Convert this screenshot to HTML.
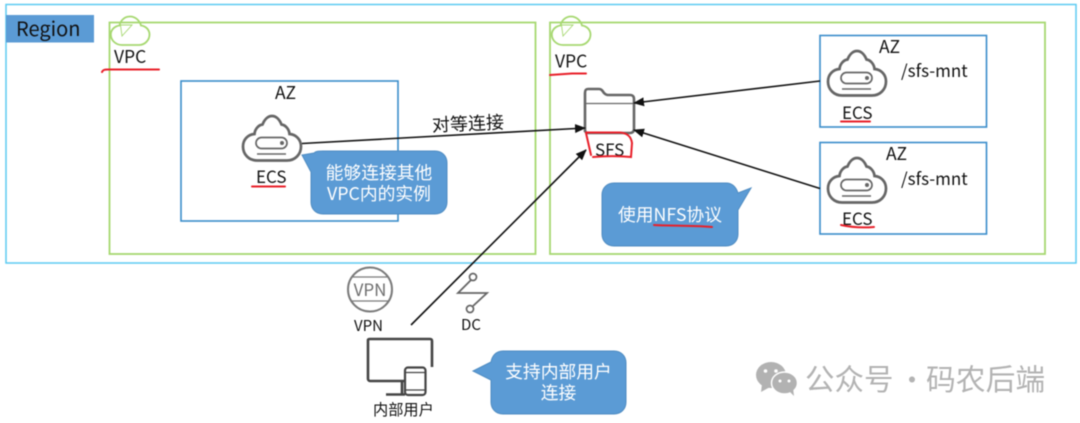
<!DOCTYPE html>
<html><head><meta charset="utf-8"><style>
html,body{margin:0;padding:0;background:#fff;width:1080px;height:423px;overflow:hidden}
svg{display:block;filter:blur(0.45px)}
text{font-family:"Noto Sans CJK SC","Liberation Sans",sans-serif;fill:#111}
.w{fill:#fff}
.r{fill:none;stroke:#e8202a;stroke-width:2;stroke-linecap:round}
.ln{stroke:#111;stroke-width:1.6;fill:none}
.cl{fill:none;stroke:#666;stroke-width:2.7}
.g{fill:none;stroke:#a6d870;stroke-width:1.8}
</style></head><body>
<svg width="1080" height="423" viewBox="0 0 1080 423" xmlns="http://www.w3.org/2000/svg">
<defs>
<marker id="a" markerWidth="11" markerHeight="9" refX="10" refY="4.500" orient="auto" markerUnits="userSpaceOnUse"><path d="M0 0L11 4.500L0 9Z" fill="#111"/></marker>
<g id="ecs">
<path class="cl" d="M15 46H45C53 46 59 40 59 32C59 25 54 20 47.500 19.500C47 14 43 10.500 39.500 10C37.500 5 34 1.500 30 1.500C26 1.500 22.500 5 20.500 10C17 10.500 13 14 12.500 19.500C6 20 1 25 1 32C1 40 7 46 15 46Z"/>
<rect x="14" y="23" width="31" height="11" rx="5.500" fill="none" stroke="#666" stroke-width="1.700"/>
<circle cx="40" cy="28.500" r="2" fill="#666"/>
<path d="M15 39.500H44" stroke="#666" stroke-width="1.500"/>
</g>
<g id="vpc">
<path class="g" d="M12 29.500H29C35 29.500 39.500 24.500 39.500 19C39.500 14 35.500 10.500 31 10C29.500 5 25.500 1 20 1C14.500 1 10.500 5 9.500 10C5 10.500 0.800 14 0.800 19C0.800 25 6 29.500 12 29.500Z"/>
<path d="M10.500 9.500L22 9.500L12 20.500Z" fill="none" stroke="#a6d870" stroke-width="0.900"/>
</g>
</defs>

<rect x="6" y="4.500" width="1070" height="258.500" fill="#fff" stroke="#5ccbf2" stroke-width="1.500"/>
<rect x="6" y="15" width="88" height="27.500" fill="#5b9bd5"/>
<text x="16" y="36" font-size="20">Region</text>

<rect x="109.500" y="22.500" width="426" height="231.500" class="g"/>
<rect x="550" y="22.500" width="495" height="231.500" class="g"/>
<use href="#vpc" x="110" y="15.500"/>
<use href="#vpc" x="551" y="15.500"/>
<text x="114" y="63" font-size="17.500">VPC</text>
<path class="r" d="M102 72C103 70 104 69.500 108 69.500L159 69.500"/>
<text x="555" y="67.500" font-size="17.500">VPC</text>
<path class="r" d="M550 75L572 73.500L586 73.500"/>

<rect x="181" y="81" width="217" height="140" fill="none" stroke="#3a8dcb" stroke-width="1.600"/>
<text x="275" y="99" font-size="17.500">AZ</text>
<use href="#ecs" x="242" y="114.500"/>
<text x="256" y="183" font-size="17">ECS</text>
<path class="r" d="M252 186.500H285"/>

<rect x="820" y="35.500" width="166.500" height="91.500" fill="none" stroke="#3a8dcb" stroke-width="1.600"/>
<rect x="820" y="142.500" width="166.500" height="91.500" fill="none" stroke="#3a8dcb" stroke-width="1.600"/>
<use href="#ecs" x="827" y="49.500"/>
<use href="#ecs" x="827" y="156.500"/>
<text x="879" y="53" font-size="17.500">AZ</text>
<text x="886" y="160" font-size="17.500">AZ</text>
<text x="901" y="77" font-size="17">/sfs-mnt</text>
<text x="901" y="185" font-size="17">/sfs-mnt</text>
<text x="842" y="119" font-size="17">ECS</text>
<text x="842" y="225" font-size="17">ECS</text>
<path class="r" d="M841 121.500H870"/>
<path class="r" d="M841 225C850 227 862 228 874 227"/>

<!-- SFS folder -->
<path d="M585 132V93C585 90 586 89 588 89H599C601 89 602 90 604 93C605 94 606 95 608 95H630C632 95 634 96 634 99V129C634 132 632 133 630 133H588C586 133 585 132 585 129Z" fill="none" stroke="#666" stroke-width="2.600"/>
<path d="M585 103.500H634" stroke="#666" stroke-width="1.300"/>
<text x="595" y="156" font-size="17">SFS</text>
<path class="r" d="M586 133L591 155M586 132.500H620C627 133 631 136 632 143L631 157C620 156 605 156 593 157"/>

<!-- connectors -->
<path class="ln" d="M302 143.500L585 128" marker-end="url(#a)"/>
<path class="ln" d="M820 81L634 103" marker-end="url(#a)"/>
<path class="ln" d="M820 188.500L634 130" marker-end="url(#a)"/>
<path class="ln" d="M411 325L586 150" marker-end="url(#a)"/>
<text x="432" y="130" font-size="18" transform="rotate(-2.500 467 124)">对等连接</text>

<!-- callouts -->
<path d="M323 151H435C442 151 447 156 447 163V202C447 209 442 214 435 214H323C316 214 311 209 311 202V172L302 155L314 153C316 151 319 151 323 151Z" fill="#5b9bd5" stroke="#4f8cc2"/>
<text class="w" x="379" y="179" font-size="17.800" text-anchor="middle">能够连接其他</text>
<text class="w" x="379" y="200" font-size="17.800" text-anchor="middle">VPC内的实例</text>

<path d="M614 183H726C732 183 736 187 738 193L751 188L738 210V234C738 241 733 246 726 246H614C607 246 602 241 602 234V195C602 188 607 183 614 183Z" fill="#5b9bd5" stroke="#4f8cc2"/>
<text class="w" x="670" y="221" font-size="17.800" text-anchor="middle">使用NFS协议</text>
<path class="r" d="M654 225C670 226 690 225 712 227"/>

<path d="M503 351H614C621 351 626 356 626 363V402C626 409 621 414 614 414H503C496 414 491 409 491 402V380L473 371L491 362C492 356 496 351 503 351Z" fill="#5b9bd5" stroke="#4f8cc2"/>
<text class="w" x="558.500" y="378" font-size="17.800" text-anchor="middle">支持内部用户</text>
<text class="w" x="558.500" y="399" font-size="17.800" text-anchor="middle">连接</text>

<!-- VPN -->
<circle cx="370" cy="289.500" r="22" fill="none" stroke="#7a7a7a" stroke-width="2"/>
<path d="M352 277H388M352 301H388" stroke="#7a7a7a" stroke-width="1.300"/>
<text x="370" y="296" font-size="17" text-anchor="middle" style="fill:#6e6e6e">VPN</text>
<text x="354" y="331" font-size="15">VPN</text>

<!-- DC -->
<circle cx="473" cy="277" r="3.500" fill="none" stroke="#666" stroke-width="1.700"/>
<circle cx="470" cy="309" r="3.500" fill="none" stroke="#666" stroke-width="1.700"/>
<path d="M471 280L458 293H487L473 306" fill="none" stroke="#666" stroke-width="1.800"/>
<text x="461" y="330" font-size="15">DC</text>

<!-- user -->
<path d="M405 381H370C369 381 368 380 368 379V340C368 339 369 339 370 339H430C431 339 432 339 432 341V367" fill="none" stroke="#444" stroke-width="2.600"/>
<path d="M402 381V395M386 394.500H405" stroke="#444" stroke-width="2.600" fill="none"/>
<rect x="405" y="367.500" width="20.500" height="27.500" rx="3" fill="#fff" stroke="#444" stroke-width="2.200"/>
<path d="M405 372.500H425M405 390H425" stroke="#444" stroke-width="1.300"/>
<text x="373" y="415" font-size="15.200">内部用户</text>

<!-- watermark -->
<ellipse cx="771" cy="375" rx="15" ry="13" fill="#b2b2b2"/>
<path d="M762 384L761 392L770 387Z" fill="#b2b2b2"/>
<ellipse cx="784.500" cy="383" rx="13" ry="11" fill="#b2b2b2" stroke="#fff" stroke-width="1.500"/>
<path d="M790 392L794 396L793 388Z" fill="#b2b2b2"/>
<circle cx="765.500" cy="371" r="1.800" fill="#fff"/><circle cx="776" cy="371" r="1.800" fill="#fff"/>
<circle cx="780" cy="381" r="1.500" fill="#fff"/><circle cx="789" cy="381" r="1.500" fill="#fff"/>
<text x="805" y="390" font-size="29.500" style="fill:#b3b3b3">公众号</text>
<text x="898" y="390" font-size="28" style="fill:#b3b3b3">·</text>
<text x="926" y="390" font-size="29.800" style="fill:#b3b3b3">码农后端</text>
</svg>
</body></html>
